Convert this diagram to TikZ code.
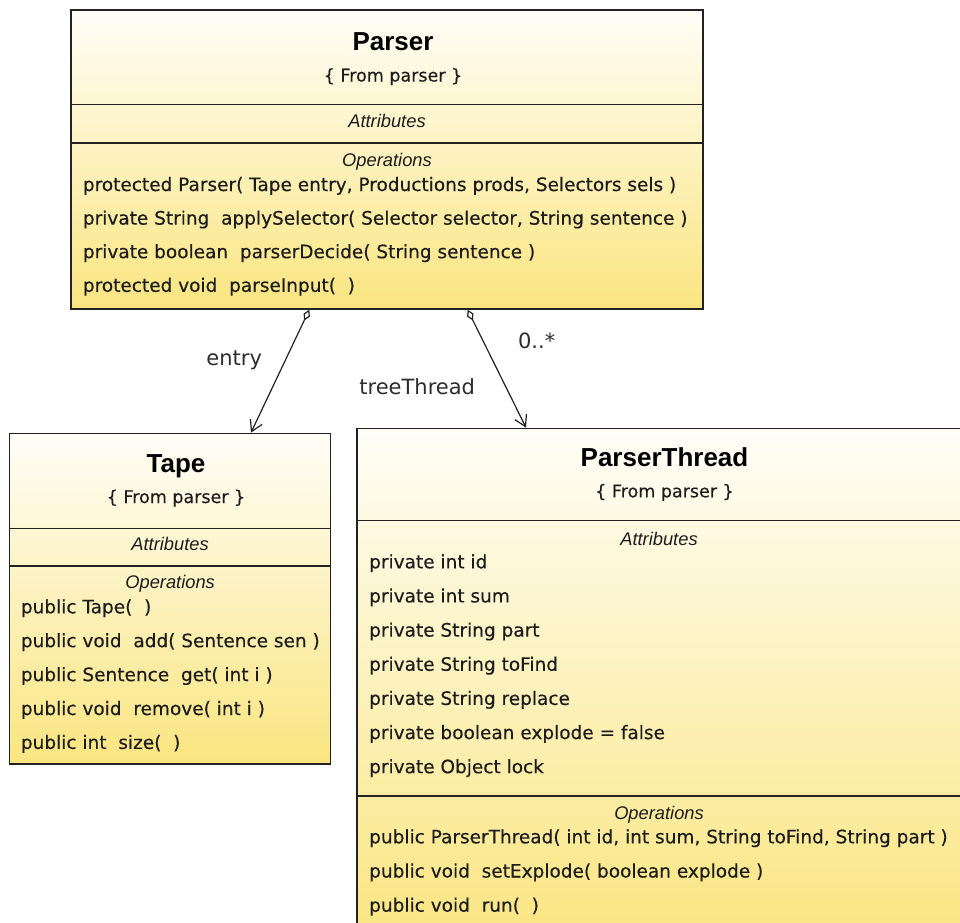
\documentclass[tikz,border=0pt]{standalone}
\usepackage{fontspec}
\setmainfont{DejaVu Sans}
\newfontfamily\umlhead{Liberation Sans}
\newfontfamily\umlbody[FakeBold=0.3]{DejaVu Sans}
\usetikzlibrary{arrows.meta,shadings,calc}

\definecolor{umltop}{RGB}{255,254,248}
\definecolor{umlbottom}{RGB}{250,229,128}
\definecolor{umlline}{RGB}{34,34,34}
\definecolor{umltext}{RGB}{28,28,28}
\definecolor{labeltext}{RGB}{45,45,45}

\tikzset{
  classbox/.style={draw=umlline, line width=1.4pt, rectangle, inner sep=0pt,
    top color=umltop, bottom color=umlbottom},
  sepline/.style={draw=umlline, line width=1.4pt},
  classname/.style={anchor=base, inner sep=0pt, text=black,
    font=\umlhead\bfseries\fontsize{26}{28}\selectfont},
  stereo/.style={anchor=base, inner sep=0pt, text=umltext,
    font=\umlbody\fontsize{17.5}{20}\selectfont},
  compartment/.style={anchor=base, inner sep=0pt, text=umltext,
    font=\umlhead\itshape\fontsize{18.3}{20}\selectfont},
  member/.style={anchor=base west, inner sep=0pt, text=umltext,
    font=\umlbody\fontsize{18.5}{20}\selectfont},
  rolelabel/.style={anchor=base, inner sep=0pt, text=labeltext,
    font=\fontsize{21}{24}\selectfont},
  assoc/.style={draw=umlline, line width=1.2pt,
    {Diamond[open,length=12pt,width=7pt]}-{Straight Barb[length=11pt,width=13pt]}},
}

\begin{document}
\begin{tikzpicture}[x=1pt,y=-1pt]
\useasboundingbox (0,0) rectangle (960,922);
\clip (0,0) rectangle (960,922);
\fill[white] (0,0) rectangle (960,922);

% ---------------- class Parser ----------------
\node[classbox, minimum width=632, minimum height=299] (parser) at (387,159.5) {};
\draw[sepline] (71,104.3) -- (703,104.3);
\draw[sepline] (71,143) -- (703,143);
\node[classname] (parserName) at (393,50) {Parser};
\node[stereo] (parserFrom) at (393,81.5) {\{ From parser \}};
\node[compartment] (parserAttr) at (387,127.7) {Attributes};
\node[compartment] (parserOps) at (387,166) {Operations};
\foreach \txt [count=\i] in {
  {protected Parser( Tape entry, Productions prods, Selectors sels )},
  {private String\ \ applySelector( Selector selector, String sentence )},
  {private boolean\ \ parserDecide( String sentence )},
  {protected void\ \ parseInput(\ \ )}}
  \node[member] (parserOp\i) at (82.7,{191+(\i-1)*33.6}) {\txt};

% ---------------- class Tape ----------------
\node[classbox, minimum width=321.2, minimum height=330.7] (tape) at (170.1,598.65) {};
\draw[sepline] (9.5,528.3) -- (330.7,528.3);
\draw[sepline] (9.5,566) -- (330.7,566);
\node[classname] (tapeName) at (176,472.7) {Tape};
\node[stereo] (tapeFrom) at (176,503) {\{ From parser \}};
\node[compartment] (tapeAttr) at (170.1,550) {Attributes};
\node[compartment] (tapeOps) at (170.1,588) {Operations};
\foreach \txt [count=\i] in {
  {public Tape(\ \ )},
  {public void\ \ add( Sentence sen )},
  {public Sentence\ \ get( int i )},
  {public void\ \ remove( int i )},
  {public int\ \ size(\ \ )}}
  \node[member] (tapeOp\i) at (20.7,{613.3+(\i-1)*33.9}) {\txt};

% ---------------- class ParserThread ----------------
\node[classbox, minimum width=604, minimum height=516.7] (thread) at (659,686.65) {};
\draw[sepline] (357,520.7) -- (961,520.7);
\draw[sepline] (357,796) -- (961,796);
\node[classname] (threadName) at (664.5,466.7) {ParserThread};
\node[stereo] (threadFrom) at (664.5,497.3) {\{ From parser \}};
\node[compartment] (threadAttr) at (659,545) {Attributes};
\foreach \txt [count=\i] in {
  {private int id},
  {private int sum},
  {private String part},
  {private String toFind},
  {private String replace},
  {private boolean explode = false},
  {private Object lock}}
  \node[member] (threadAttr\i) at (369,{568.3+(\i-1)*34.15}) {\txt};
\node[compartment] (threadOps) at (659,819.3) {Operations};
\foreach \txt [count=\i] in {
  {public ParserThread( int id, int sum, String toFind, String part )},
  {public void\ \ setExplode( boolean explode )},
  {public void\ \ run(\ \ )}}
  \node[member] (threadOp\i) at (369,{843.3+(\i-1)*34.2}) {\txt};

% ---------------- associations ----------------
\draw[assoc] ($(parser.south west)+(239,0)$) -- ($(tape.north west)+(242.2,0)$);
\draw[assoc] ($(parser.south west)+(397.3,0)$) -- ($(thread.north west)+(169.7,0)$);
\node[rolelabel] (entryLabel) at (234.2,365) {entry};
\node[rolelabel] (treeLabel) at (417.2,394.3) {treeThread};
\node[rolelabel] (multLabel) at (536.7,348.3) {0..*};
\end{tikzpicture}
\end{document}
